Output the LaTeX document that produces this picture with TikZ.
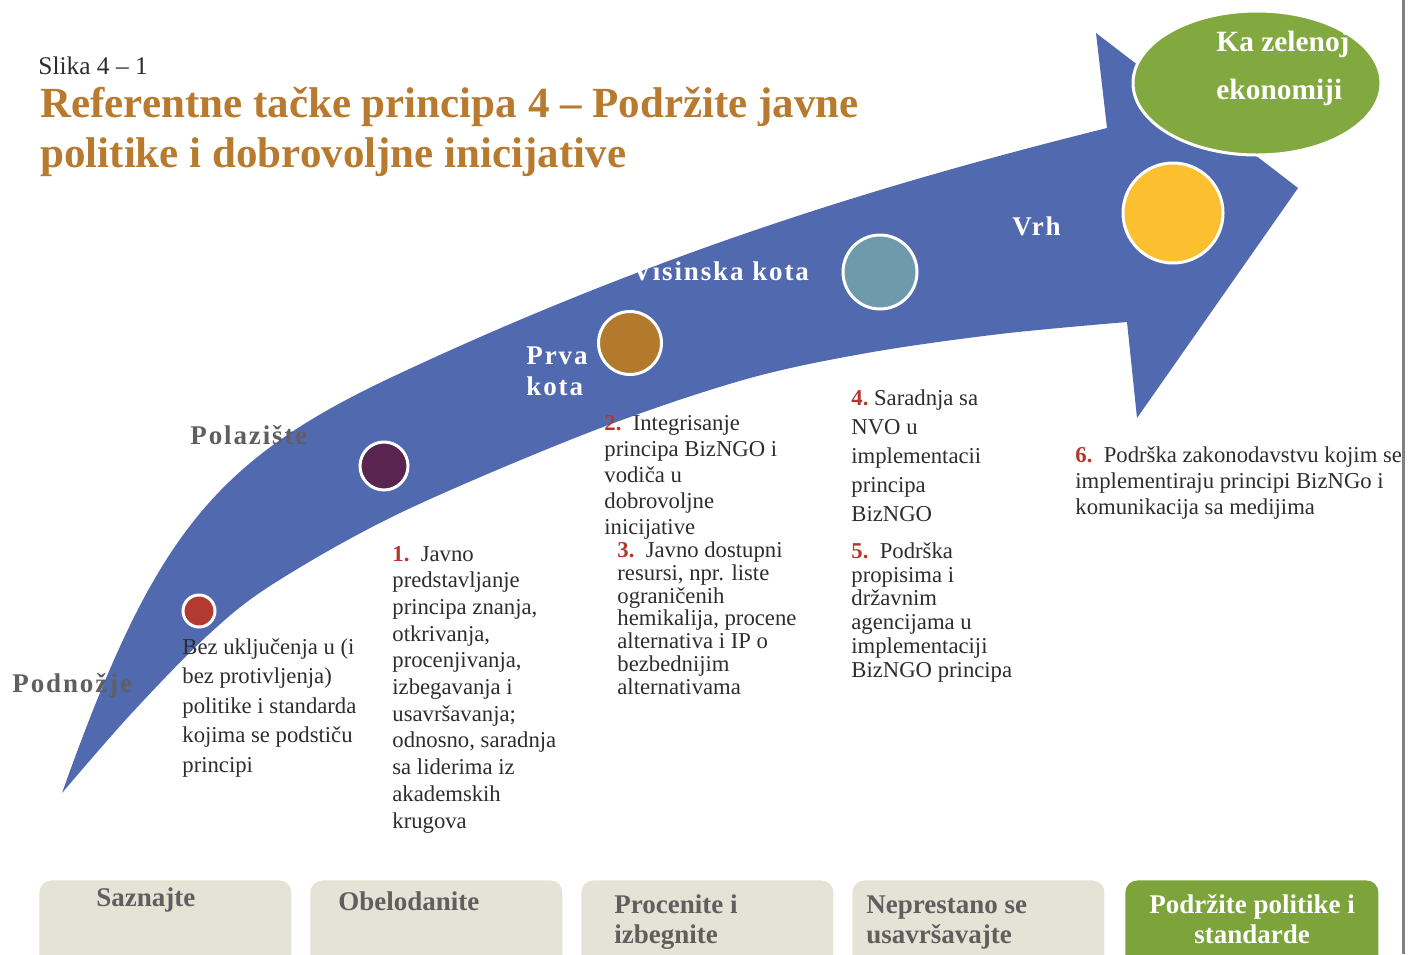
\documentclass[tikz,border=0pt]{standalone}
\usepackage{fontspec}
\setmainfont{Liberation Serif}
\newfontfamily\spacedserif[LetterSpace=7]{Liberation Serif}
\usepackage{xcolor}
\usepackage{tikz}
\usetikzlibrary{positioning, shapes.geometric}

\definecolor{arrowBlue}{RGB}{81,105,175}
\definecolor{titleBrown}{RGB}{184,122,46}
\definecolor{labelGray}{RGB}{95,95,95}
\definecolor{textGray}{RGB}{45,45,45}
\definecolor{numRed}{RGB}{180,55,45}
\definecolor{boxBeige}{RGB}{229,227,214}
\definecolor{boxGreen}{RGB}{124,164,58}
\definecolor{goalGreen}{RGB}{130,168,64}
\definecolor{dotRed}{RGB}{178,58,48}
\definecolor{dotPurple}{RGB}{90,36,80}
\definecolor{dotBrown}{RGB}{179,122,45}
\definecolor{dotTeal}{RGB}{111,154,174}
\definecolor{dotYellow}{RGB}{252,191,47}
\definecolor{frameGray}{RGB}{128,128,128}

\newcommand{\stepnum}[1]{\textcolor{numRed}{\textbf{#1}}}

\tikzset{
    dot/.style={circle, draw=white, line width=1.5pt, inner sep=0pt},
    milestone/.style={anchor=base west, inner sep=0pt, align=left, font=\spacedserif\bfseries\fontsize{13.5}{15.5}\selectfont},
    body/.style={anchor=base west, inner sep=0pt, align=left, text=textGray},
    stage/.style={rectangle, rounded corners=6pt, fill=boxBeige, minimum width=126pt, minimum height=60pt, anchor=north west, inner sep=0pt},
    stageText/.style={anchor=base west, inner sep=0pt, align=left, text=labelGray, font=\bfseries\fontsize{13.5}{15}\selectfont},
    goal/.style={ellipse, fill=goalGreen, draw=white, line width=1.5pt, minimum width=124pt, minimum height=72pt}
}

\begin{document}
\begin{tikzpicture}[x=0.5pt, y=-0.5pt]
        \useasboundingbox (0,0) rectangle (1417,954);
        \clip (0,0) rectangle (1417,954);

        % Heading (base = last line)
        \node[anchor=base west, inner sep=0pt, text=textGray, font=\fontsize{12.7}{15}\selectfont] (Slika) at (38,74) {Slika 4 – 1};
        \node[anchor=base west, inner sep=0pt, align=left, text=titleBrown, font=\bfseries\fontsize{21.5}{25}\selectfont] (Title) at (40,167) {Referentne tačke principa 4 – Podržite javne\\politike i dobrovoljne inicijative};

        % Arrow
        \fill[arrowBlue] (62,793) .. controls (152,541) and (210,463) .. (390,378)
            .. controls (670,246) and (907,178) .. (1107,128)
            -- (1096,33) -- (1298,188) -- (1137,418) -- (1127,322)
            -- plot[smooth, tension=0.55] coordinates {(1127,322) (1000,334) (867,353) (743,380) (590,432) (400,513) (273,584) (207,636) (130,715) (62,793)} -- cycle;

        % Milestones
        \node[dot, fill=dotRed, minimum size=16pt] (Dot0) at (199,611) {};
        \node[dot, fill=dotPurple, minimum size=24pt] (Dot1) at (384,466) {};
        \node[dot, fill=dotBrown, minimum size=31.5pt] (Dot2) at (630,343) {};
        \node[dot, fill=dotTeal, minimum size=37pt] (Dot3) at (880,272) {};
        \node[dot, fill=dotYellow, minimum size=50pt] (Dot4) at (1173,213) {};

        \node[milestone, text=labelGray] (Podnozje) at (12,692) {Podnožje};
        \node[milestone, text=labelGray] (Polaziste) at (190,444) {Polazište};
        \node[milestone, text=white] (PrvaKota) at (526,395) {Prva\\kota};
        \node[milestone, text=white] (VisinskaKota) at (632,280) {Visinska kota};
        \node[milestone, text=white] (Vrh) at (1012,235) {Vrh};

        % Goal
        \node[goal] (Goal) at (1257,83) {};
        \node[anchor=base west, inner sep=0pt, align=left, text=white, font=\bfseries\fontsize{14.7}{24}\selectfont] (GoalText) at (1216,99) {Ka zelenoj\\ekonomiji};

        % Steps
        \node[body, font=\fontsize{11.35}{14.75}\selectfont] (Step0) at (182,772) {Bez uključenja u (i\\bez protivljenja)\\politike i standarda\\kojima se podstiču\\principi};
        \node[body, font=\fontsize{11.35}{13.35}\selectfont] (Step1) at (392,828) {\stepnum{1.}~~Javno\\predstavljanje\\principa znanja,\\otkrivanja,\\procenjivanja,\\izbegavanja i\\usavršavanja;\\odnosno, saradnja\\sa liderima iz\\akademskih\\krugova};
        \node[body, font=\fontsize{11.35}{13}\selectfont] (Step2) at (604,534) {\stepnum{2.}~~Integrisanje\\principa BizNGO i\\vodiča u\\dobrovoljne\\inicijative};
        \node[body, font=\fontsize{11.35}{11.35}\selectfont] (Step3) at (617,694) {\stepnum{3.}~~Javno dostupni\\resursi, npr. liste\\ograničenih\\hemikalija, procene\\alternativa i IP o\\bezbednijim\\alternativama};
        \node[body, font=\fontsize{11.35}{14.5}\selectfont] (Step4) at (851,521) {\stepnum{4.}~Saradnja sa\\NVO u\\implementacii\\principa\\BizNGO};
        \node[body, font=\fontsize{11.35}{11.85}\selectfont] (Step5) at (851,677) {\stepnum{5.}~~Podrška\\propisima i\\državnim\\agencijama u\\implementaciji\\BizNGO principa};
        \node[body, font=\fontsize{11.35}{13}\selectfont] (Step6) at (1075,514) {\stepnum{6.}~~Podrška zakonodavstvu kojim se\\implementiraju principi BizNGo i\\komunikacija sa medijima};

        % Stages
        \node[stage] (Saznajte) at (39,880) {};
        \node[stage] (Obelodanite) at (310,880) {};
        \node[stage] (Procenite) at (581,880) {};
        \node[stage] (Neprestano) at (852,880) {};
        \node[stage, fill=boxGreen, minimum width=126.5pt] (Podrzite) at (1125,880) {};

        \node[stageText] (SaznajteText) at (96,906) {Saznajte};
        \node[stageText] (ObelodaniteText) at (338,910) {Obelodanite};
        \node[stageText] (ProceniteText) at (614,943) {Procenite i\\izbegnite};
        \node[stageText] (NeprestanoText) at (866,943) {Neprestano se\\usavršavajte};
        \node[stageText, anchor=base, align=center, text=white] (PodrziteText) at (1252,943) {Podržite politike i\\standarde};

        % Frame
        \draw[frameGray, line width=1.5pt] (1403,0) -- (1403,954);
    \end{tikzpicture}
\end{document}
